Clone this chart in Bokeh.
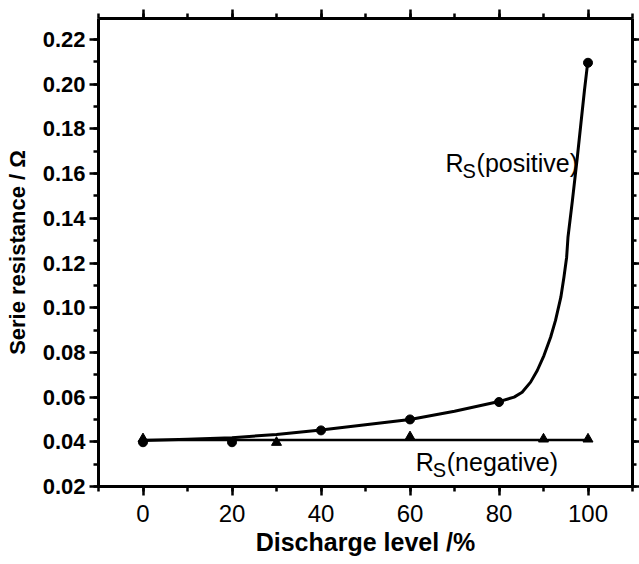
from bokeh.plotting import figure
from bokeh.models import (LinearAxis, SingleIntervalTicker, PrintfTickFormatter, Label,
                          CustomLabelingPolicy)
from bokeh.embed import file_html
from bokeh.resources import INLINE

# ---- data ----
discharge_pos = [0, 20, 40, 60, 80, 100]
rs_pos = [0.0398, 0.0398, 0.0451, 0.0500, 0.0578, 0.2096]

discharge_neg = [0, 30, 60, 90, 100]
rs_neg = [0.0413, 0.0397, 0.0422, 0.0412, 0.0412]

neg_line_x = [0, 100]
neg_line_y = [0.0408, 0.0408]

# fitted curve of the positive electrode
fit_x = [0, 10, 20, 30, 40, 50, 60, 70, 80, 83.4, 85.2, 87.1, 88.6, 90.1, 91.6,
         92.7, 93.9, 94.6, 95.2, 95.5, 96.5, 97.6, 98.4, 99.2, 99.9, 100]
fit_y = [0.0406, 0.0411, 0.0418, 0.0433, 0.0453, 0.0476, 0.0500, 0.0537, 0.0580,
         0.0600, 0.0622, 0.0667, 0.0719, 0.0786, 0.0868, 0.0943, 0.1047, 0.1137,
         0.1226, 0.1315, 0.148, 0.1673, 0.1823, 0.1972, 0.2091, 0.2096]

x_title = "Discharge level /%"
y_title = "Serie resistance / \u03a9"

FONT = "Liberation Sans"

p = figure(width=639, height=564, x_range=(-10, 110), y_range=(0.02, 0.2294),
           output_backend="svg", toolbar_location=None,
           min_border_left=98, min_border_right=7, min_border_top=18, min_border_bottom=78)
p.outline_line_color = None
p.xgrid.visible = False
p.ygrid.visible = False
p.background_fill_color = "white"
p.border_fill_color = "white"


def style(ax):
    ax.axis_line_width = 3
    ax.axis_line_color = "black"
    ax.major_tick_line_width = 2.5
    ax.minor_tick_line_width = 2.5
    ax.major_tick_line_color = "black"
    ax.minor_tick_line_color = "black"
    ax.major_tick_in = 0
    ax.minor_tick_in = 0
    ax.major_tick_out = 9
    ax.minor_tick_out = 5


xa = p.xaxis[0]
xa.ticker = SingleIntervalTicker(interval=20, num_minor_ticks=2)
style(xa)
xa.major_label_text_font = FONT
xa.major_label_text_font_size = "24px"
xa.major_label_text_color = "black"
xa.major_label_standoff = 9
xa.axis_label = x_title
xa.axis_label_text_font = FONT
xa.axis_label_text_font_size = "25px"
xa.axis_label_text_font_style = "bold"
xa.axis_label_text_color = "black"
xa.axis_label_standoff = 3

ya = p.yaxis[0]
ya.ticker = SingleIntervalTicker(interval=0.02, num_minor_ticks=2)
ya.formatter = PrintfTickFormatter(format="%.2f")
style(ya)
ya.major_label_text_font = FONT
ya.major_label_text_font_size = "22px"
ya.major_label_text_font_style = "bold"
ya.major_label_text_color = "black"
ya.major_label_standoff = 4
ya.axis_label = y_title
ya.axis_label_text_font = FONT
ya.axis_label_text_font_size = "22px"
ya.axis_label_text_font_style = "bold"
ya.axis_label_text_color = "black"
ya.axis_label_standoff = 10

# mirror axes: ticks only, no labels (labels filtered out and given no size)
top = LinearAxis(ticker=SingleIntervalTicker(interval=20, num_minor_ticks=2),
                 major_label_policy=CustomLabelingPolicy(code="return []"),
                 major_label_text_font_size="0px", major_label_standoff=0)
style(top)
p.add_layout(top, "above")

right = LinearAxis(ticker=SingleIntervalTicker(interval=0.02, num_minor_ticks=2),
                   major_label_policy=CustomLabelingPolicy(code="return []"),
                   major_label_text_font_size="0px", major_label_standoff=0)
style(right)
right.major_tick_out = 7
right.minor_tick_out = 4
p.add_layout(right, "right")

# ---- marks ----
p.line(fit_x, fit_y, line_color="black", line_width=3, line_join="round")
p.line(neg_line_x, neg_line_y, line_color="black", line_width=2.5)
p.scatter(discharge_pos, rs_pos, marker="circle", size=9, fill_color="black", line_color="black")
p.scatter(discharge_neg, rs_neg, marker="triangle", size=10, fill_color="black", line_color="black")

# ---- annotations ----
def rs_label(x, y, word):
    p.add_layout(Label(x=x, y=y, text="R", text_font=FONT, text_font_size="25px",
                       text_baseline="alphabetic", text_color="black"))
    p.add_layout(Label(x=x, y=y, x_offset=17, y_offset=-8, text="S", text_font=FONT,
                       text_font_size="20px", text_baseline="alphabetic", text_color="black"))
    p.add_layout(Label(x=x, y=y, x_offset=31, text=word, text_font=FONT,
                       text_font_size="25px", text_baseline="alphabetic", text_color="black"))


rs_label(68.0, 0.1648, "(positive)")
rs_label(61.3, 0.0309, "(negative)")

open("out.html", "w").write(file_html(p, INLINE))
